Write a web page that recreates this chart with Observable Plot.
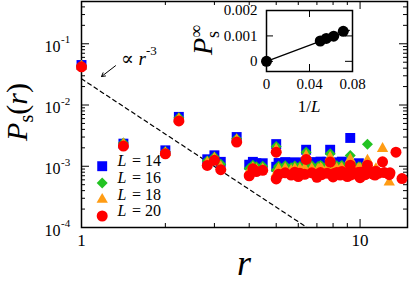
<!DOCTYPE html>
<html><head><meta charset="utf-8">
<script src="https://cdn.jsdelivr.net/npm/d3@7"></script>
<script src="https://cdn.jsdelivr.net/npm/@observablehq/plot@0.6"></script>
<style>
body{margin:0;background:#fff}
#wrap{position:relative;width:409px;height:283px;overflow:hidden}
#wrap svg{position:absolute}
</style></head><body><div id="wrap"></div>
<script>
const FONT = "Liberation Serif, Times New Roman, DejaVu Serif, serif";

// series metadata
const seriesLabels = ["14", "16", "18", "20"];
const seriesColors = ["#0000ff", "#22c322", "#ff9c14", "#ff0000"];
const seriesSymbols = ["square", "diamond2", "triangle", "circle"];
const seriesSizes = [5.6, 4.95, 4.2, 5.5];

// L = 14
const rL14 = [1,1.414,2,2.236,2.828,3,3.162,3.606,4,4.123,4.243,4.472,5,5,5.099,5.385,5.657,5.831,6,6.083,6.325,6.403,6.708,7,7.071,7.071,7.211,7.28,7.616,7.81,8.062,8.485,8.602,9.22,9.899];
const pL14 = [0.045,0.00234,0.00182,0.0064,0.0013,0.00151,0.00118,0.0030,0.00106,0.00118,0.00112,0.00112,0.0023,0.00098,0.00113,0.00117,0.00108,0.00116,0.00101,0.00113,0.00116,0.00186,0.00117,0.00102,0.00113,0.0011,0.00119,0.00114,0.00118,0.00186,0.00116,0.00111,0.00119,0.0029,0.00112];
// L = 16
const rL16 = [1,1.414,2,2.236,2.828,3,3.162,3.606,4,4.123,4.243,4.472,5,5,5.099,5.385,5.657,5.831,6,6.083,6.325,6.403,6.708,7,7.071,7.071,7.211,7.28,7.616,7.81,8,8.062,8.062,8.246,8.485,8.544,8.602,8.944,9.22,9.434,9.899,10,10.63,11.314];
const pL16 = [0.044,0.0024,0.00172,0.0062,0.00122,0.00142,0.00108,0.0028,0.00092,0.00104,0.00098,0.001,0.0021,0.00086,0.001,0.00102,0.00095,0.00101,0.00088,0.00099,0.00101,0.0017,0.00102,0.00089,0.00099,0.00096,0.00103,0.001,0.00102,0.0016,0.00088,0.00101,0.001,0.00102,0.00097,0.00101,0.00103,0.00099,0.0015,0.00103,0.00098,0.00097,0.00228,0.00085];
// L = 18
const rL18 = [1,1.414,2,2.236,2.828,3,3.162,3.606,4,4.123,4.243,4.472,5,5,5.099,5.385,5.657,5.831,6,6.083,6.325,6.403,6.708,7,7.071,7.071,7.211,7.28,7.616,7.81,8,8.062,8.062,8.246,8.485,8.544,8.602,8.944,9,9.055,9.22,9.22,9.434,9.487,9.849,9.899,10,10.296,10.63,10.817,11.314,11.402,12.042,12.728];
const pL18 = [0.043,0.0023,0.00166,0.0059,0.00115,0.00135,0.00098,0.0027,0.00082,0.00094,0.00088,0.0009,0.0019,0.00076,0.0009,0.00092,0.00085,0.00091,0.00078,0.0009,0.00092,0.0015,0.00092,0.00079,0.00089,0.00086,0.00093,0.0009,0.00092,0.0014,0.00078,0.00091,0.0009,0.00092,0.00087,0.00091,0.00093,0.00089,0.00078,0.0009,0.00088,0.0013,0.00093,0.00089,0.00091,0.00087,0.00092,0.0009,0.00125,0.00092,0.00084,0.00091,0.00194,0.00055];
// L = 20
const rL20 = [1,1.414,2,2.236,2.828,3,3.162,3.606,4,4.123,4.243,4.472,5,5,5.099,5.385,5.657,5.831,6,6.083,6.325,6.403,6.708,7,7.071,7.071,7.211,7.28,7.616,7.81,8,8.062,8.062,8.246,8.485,8.544,8.602,8.944,9,9.055,9.22,9.22,9.434,9.487,9.849,9.899,10,10,10.05,10.198,10.296,10.44,10.63,10.77,10.817,11.18,11.314,11.402,11.662,12.042,12.207,12.728,12.806,13.454,14.142];
const pL20 = [0.042,0.00214,0.0016,0.0055,0.00103,0.00125,0.00088,0.00248,0.0007,0.00091,0.00082,0.00086,0.0017,0.00062,0.00074,0.00078,0.00072,0.0008,0.00068,0.00077,0.00074,0.00129,0.00078,0.00066,0.00075,0.00072,0.00079,0.00073,0.00077,0.00117,0.00067,0.00076,0.00074,0.00079,0.00072,0.00078,0.00082,0.00074,0.00068,0.00077,0.00072,0.00104,0.0008,0.00075,0.00079,0.00071,0.00065,0.0008,0.00074,0.00077,0.00081,0.00073,0.00104,0.00078,0.00082,0.00074,0.00072,0.00083,0.00077,0.00118,0.00079,0.00073,0.00078,0.0017,0.00063];

const seriesR = [rL14, rL16, rL18, rL20];
const seriesP = [pL14, pL16, pL18, pL20];

// guide line  ∝ r^-3
const guideR = [1, 6.45];
const guideP = [0.0268, 0.0001];
// annotation arrow (data coords)
const arrowFrom = [1.325, 0.0438];
const arrowTo = [1.18, 0.0292];

// inset data
const invL = [0, 0.05, 0.0556, 0.0625, 0.0714];
const pInf = [0, 0.0008, 0.0009, 0.00099, 0.00118];
const fitInvL = [0, 0.077];
const fitP = [0, 0.00122];

// ticks
const xMajor = [1, 10];
const xMinor = [2,3,4,5,6,7,8,9];
const yMajor = [1e-4, 1e-3, 1e-2, 1e-1];
const yMinor = [];
for (const e of [-4,-3,-2,-1]) for (let m = 2; m <= 9; m++) { const v = m * Math.pow(10, e); if (v < 0.49) yMinor.push(v); }
const insetXTicks = [0, 0.04, 0.08];
const insetYTicks = [0, 0.001, 0.002];

const W = 409, H = 283, ML = 81, MT = 1, MR = 2, MB = 56;
const PW = W - ML - MR, PH = H - MT - MB;
const legendDy = [-61.3, -44.5, -28, -11.5];

const rows = seriesR.map((rs, i) => rs.map((r, j) => ({r, p: seriesP[i][j]})));
const T = {fontFamily: FONT, fill: "black"};

const main = Plot.plot({
  width: W, height: H, marginLeft: ML, marginTop: MT, marginRight: MR, marginBottom: MB,
  style: {background: "white", overflow: "visible", color: "black"},
  x: {type: "log", domain: [1, 14.8], axis: null},
  y: {type: "log", domain: [1e-4, 0.49], axis: null},
  marks: [
    Plot.tickX(xMajor, {x: d => d, insetTop: PH - 8, stroke: "black", strokeWidth: 1}),
    Plot.tickX(xMajor, {x: d => d, insetBottom: PH - 8, stroke: "black", strokeWidth: 1}),
    Plot.tickX(xMinor, {x: d => d, insetTop: PH - 4, stroke: "black", strokeWidth: 1}),
    Plot.tickX(xMinor, {x: d => d, insetBottom: PH - 4, stroke: "black", strokeWidth: 1}),
    Plot.tickY(yMajor, {y: d => d, insetRight: PW - 8, stroke: "black", strokeWidth: 1}),
    Plot.tickY(yMajor, {y: d => d, insetLeft: PW - 8, stroke: "black", strokeWidth: 1}),
    Plot.tickY(yMinor, {y: d => d, insetRight: PW - 4, stroke: "black", strokeWidth: 1}),
    Plot.tickY(yMinor, {y: d => d, insetLeft: PW - 4, stroke: "black", strokeWidth: 1}),
    Plot.frame({stroke: "black", strokeWidth: 1.5}),
    Plot.text(xMajor, {...T, x: d => d, text: d => String(d), frameAnchor: "bottom", dy: 18, fontSize: 17}),
    Plot.text(yMajor, {...T, y: d => d, text: () => "10", frameAnchor: "left", dx: -21, dy: 3, textAnchor: "end", fontSize: 16}),
    Plot.text(yMajor, {...T, y: d => d, text: d => "-" + Math.round(-Math.log10(d)), frameAnchor: "left", dx: -20.5, dy: -4, textAnchor: "start", fontSize: 11}),
    Plot.line(guideR.map((r, i) => ({r, p: guideP[i]})), {x: "r", y: "p", stroke: "black", strokeWidth: 1.2, strokeDasharray: "4,3.5"}),
    Plot.arrow([0], {x1: () => arrowFrom[0], y1: () => arrowFrom[1], x2: () => arrowTo[0], y2: () => arrowTo[1], stroke: "black", strokeWidth: 1, headLength: 6}),
    ...rows.map((data, i) => Plot.dot(data, {x: "r", y: "p", symbol: seriesSymbols[i], r: seriesSizes[i], fill: seriesColors[i], stroke: "none"})),
    ...seriesLabels.flatMap((lab, i) => [
      Plot.dot([0], {frameAnchor: "bottom-left", dx: 20.7, dy: legendDy[i], symbol: seriesSymbols[i], r: seriesSizes[i], fill: seriesColors[i], stroke: "none"}),
      Plot.text([0], {...T, frameAnchor: "bottom-left", dx: 36, dy: legendDy[i], text: () => "L", fontStyle: "italic", fontSize: 16, textAnchor: "start"}),
      Plot.text([0], {...T, frameAnchor: "bottom-left", dx: 50.5, dy: legendDy[i], text: () => "= " + lab, fontSize: 16, textAnchor: "start"})
    ])
  ]
});

const IML = 60, IMT = 5, IMR = 10, IMB = 44, IW = 156, IH = 110;
const IPW = IW - IML - IMR, IPH = IH - IMT - IMB;
const inset = Plot.plot({
  width: IW, height: IH, marginLeft: IML, marginTop: IMT, marginRight: IMR, marginBottom: IMB,
  style: {background: "transparent", overflow: "visible", color: "black"},
  x: {domain: [0, 0.08], axis: null},
  y: {domain: [-0.0004, 0.002], axis: null},
  marks: [
    Plot.tickX(insetXTicks, {x: d => d, insetTop: IPH - 7, stroke: "black"}),
    Plot.tickX(insetXTicks, {x: d => d, insetBottom: IPH - 7, stroke: "black"}),
    Plot.tickY(insetYTicks, {y: d => d, insetRight: IPW - 7, stroke: "black"}),
    Plot.tickY(insetYTicks, {y: d => d, insetLeft: IPW - 7, stroke: "black"}),
    Plot.frame({stroke: "black", strokeWidth: 1.5}),
    Plot.text(insetXTicks, {...T, x: d => d, text: d => d === 0 ? "0" : d.toFixed(2), frameAnchor: "bottom", dy: 17, fontSize: 15}),
    Plot.text(insetYTicks, {...T, y: d => d, text: d => d === 0 ? "0" : d.toFixed(3), frameAnchor: "left", dx: -9, textAnchor: "end", fontSize: 15}),
    Plot.line(fitInvL.map((x, i) => ({x, y: fitP[i]})), {x: "x", y: "y", stroke: "black", strokeWidth: 1.3}),
    Plot.dot(invL.map((x, i) => ({x, y: pInf[i]})), {x: "x", y: "y", r: 5.5, fill: "black", stroke: "none"})
  ]
});

const wrap = document.getElementById("wrap");
main.style.left = "0px"; main.style.top = "0px";
inset.style.left = (266 - IML) + "px"; inset.style.top = (10 - IMT) + "px";
wrap.appendChild(main);
wrap.appendChild(inset);
d3.selectAll([main, inset]).attr("font-family", FONT).style("font-family", FONT);

const s = d3.select(main);
// y label P_s(r)
const yl = s.append("text").attr("transform", "translate(27,112) rotate(-90)")
  .attr("text-anchor", "middle").attr("font-size", 30).attr("font-family", FONT).attr("fill", "black");
yl.append("tspan").attr("font-style", "italic").text("P");
yl.append("tspan").attr("font-size", 20).attr("dy", 6).text("s");
yl.append("tspan").attr("dy", -6).text("(");
yl.append("tspan").attr("font-style", "italic").text("r");
yl.append("tspan").text(")");
// x label r
s.append("text").attr("x", 244).attr("y", 275).attr("text-anchor", "middle")
  .attr("font-size", 36).attr("font-style", "italic").attr("font-family", FONT).text("r");
// annotation
const an = s.append("text").attr("x", 121).attr("y", 65).attr("text-anchor", "start")
  .attr("font-size", 19).attr("font-family", FONT);
an.append("tspan").text("\u221D ");
an.append("tspan").attr("font-style", "italic").text("r");
an.append("tspan").attr("font-size", 13).attr("dy", -10).text("-3");
// inset labels
const il = s.append("text").attr("x", 309).attr("y", 112).attr("text-anchor", "middle")
  .attr("font-size", 17).attr("font-family", FONT);
il.append("tspan").text("1/");
il.append("tspan").attr("font-style", "italic").text("L");
const iy = s.append("text").attr("transform", "translate(212,40) rotate(-90)")
  .attr("text-anchor", "middle").attr("font-size", 28).attr("font-family", FONT);
iy.append("tspan").attr("font-style", "italic").text("P");
iy.append("tspan").attr("font-size", 18).attr("dy", -10).text("\u221E");
iy.append("tspan").attr("font-size", 18).attr("dx", -13).attr("dy", 17).text("s");
</script></body></html>
